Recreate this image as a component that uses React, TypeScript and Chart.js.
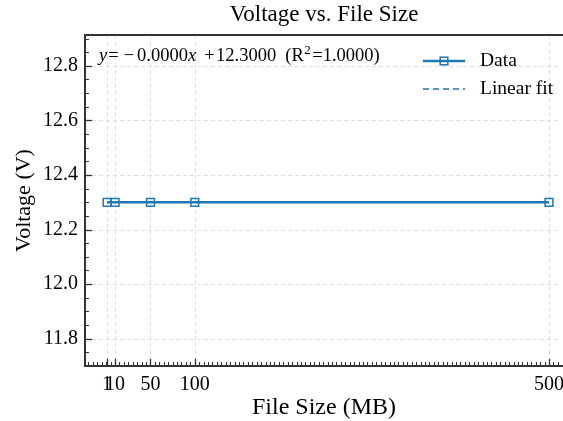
import React, { useEffect, useRef } from 'react';
import { Chart, registerables } from 'chart.js';

Chart.register(...registerables);

// ---- data ----
const FILE_SIZES = [1, 10, 50, 100, 500];
const VOLTAGES = [12.3, 12.3, 12.3, 12.3, 12.3];
const FIT_X = [1, 500];
const FIT_Y = [12.3, 12.3];
const X_TICKS = [1, 10, 50, 100, 500];
const Y_TICKS = [11.8, 12.0, 12.2, 12.4, 12.6, 12.8];
const X_RANGE = [-23.95, 515.8];
const Y_RANGE = [11.7, 12.913];
const X_MINOR_STEP = 5;
const Y_MINOR_STEP = 0.05;
const TITLE = 'Voltage vs. File Size';
const X_LABEL = 'File Size (MB)';
const Y_LABEL = 'Voltage (V)';
const SERIES_LABELS = ['Data', 'Linear fit'];
const EQ_SIGN = '\u2212';
const EQ_SLOPE = '0.0000';
const EQ_INTERCEPT = '12.3000';
const EQ_R2 = '1.0000';

// ---- style ----
const BLUE = '#1f77b4';
const SPINE = '#333333';
const GRID = '#d6d6d6';
const FONT = "'Liberation Serif', 'Times New Roman', Times, serif";
const W = 563;
const H = 421;

const decoPlugin = {
  id: 'deco',
  beforeDatasetsDraw(chart: any) {
    const { ctx, chartArea: a, scales } = chart;
    const x = scales.x;
    const y = scales.y;
    ctx.save();
    ctx.strokeStyle = GRID;
    ctx.lineWidth = 0.8;
    ctx.setLineDash([4, 3]);
    for (const v of X_TICKS) {
      const px = Math.round(x.getPixelForValue(v)) + 0.5;
      ctx.beginPath();
      ctx.moveTo(px, a.top);
      ctx.lineTo(px, a.bottom);
      ctx.stroke();
    }
    for (const v of Y_TICKS) {
      const py = Math.round(y.getPixelForValue(v)) + 0.5;
      ctx.beginPath();
      ctx.moveTo(a.left, py);
      ctx.lineTo(a.right, py);
      ctx.stroke();
    }
    ctx.restore();
  },
  afterDatasetsDraw(chart: any) {
    const { ctx, chartArea: a, scales } = chart;
    const x = scales.x;
    const y = scales.y;
    ctx.save();
    ctx.strokeStyle = SPINE;
    ctx.lineWidth = 1;
    const xmin = x.min, xmax = x.max, ymin = y.min, ymax = y.max;
    for (let v = Math.ceil(xmin / X_MINOR_STEP) * X_MINOR_STEP; v <= xmax; v += X_MINOR_STEP) {
      const px = Math.round(x.getPixelForValue(v)) + 0.5;
      ctx.beginPath();
      ctx.moveTo(px, a.bottom);
      ctx.lineTo(px, a.bottom - 4);
      ctx.stroke();
    }
    for (let k = Math.ceil(ymin / Y_MINOR_STEP); k * Y_MINOR_STEP <= ymax; k++) {
      const py = Math.round(y.getPixelForValue(k * Y_MINOR_STEP)) + 0.5;
      ctx.beginPath();
      ctx.moveTo(a.left, py);
      ctx.lineTo(a.left + 4, py);
      ctx.stroke();
    }
    ctx.lineWidth = 1.3;
    for (const v of X_TICKS) {
      const px = Math.round(x.getPixelForValue(v)) + 0.5;
      ctx.beginPath();
      ctx.moveTo(px, a.bottom);
      ctx.lineTo(px, a.bottom - 7);
      ctx.stroke();
    }
    for (const v of Y_TICKS) {
      const py = Math.round(y.getPixelForValue(v)) + 0.5;
      ctx.beginPath();
      ctx.moveTo(a.left, py);
      ctx.lineTo(a.left + 7, py);
      ctx.stroke();
    }
    ctx.restore();
  },
  afterDraw(chart: any) {
    const { ctx, chartArea: a } = chart;
    ctx.save();
    // keep the frame's right edge open, as the spine there lies outside the picture
    ctx.fillStyle = '#fff';
    ctx.fillRect(a.right - 2, a.top + 1, 2, a.bottom - a.top - 2);
    // spines: top, left, bottom
    ctx.strokeStyle = SPINE;
    ctx.lineWidth = 2;
    ctx.beginPath();
    ctx.moveTo(a.right, a.top);
    ctx.lineTo(a.left, a.top);
    ctx.lineTo(a.left, a.bottom);
    ctx.lineTo(a.right, a.bottom);
    ctx.stroke();

    // equation
    const size = 18.5;
    const reg = `${size}px ${FONT}`;
    const ita = `italic ${size}px ${FONT}`;
    let cx = a.left + 14;
    const by = a.top + 26;
    ctx.fillStyle = '#000';
    ctx.textAlign = 'left';
    ctx.textBaseline = 'alphabetic';
    const put = (t: string, f: string, gap: number) => {
      ctx.font = f;
      ctx.fillText(t, cx, by);
      cx += ctx.measureText(t).width + gap;
    };
    put('y', ita, 1);
    put('=', reg, 5);
    put(EQ_SIGN, reg, 3);
    put(EQ_SLOPE, reg, 0);
    put('x', ita, 8);
    put('+', reg, 1.5);
    put(EQ_INTERCEPT, reg, 9);
    put('(R', reg, 0.5);
    ctx.font = `${Math.round(size * 0.7)}px ${FONT}`;
    ctx.fillText('2', cx, by - 7);
    cx += ctx.measureText('2').width + 1.5;
    put('=' + EQ_R2 + ')', reg, 0);

    // legend
    const l0 = a.right - 140;
    const l1 = a.right - 98;
    const tx = a.right - 83;
    const r1 = a.top + 26;
    const r2 = a.top + 54;
    ctx.strokeStyle = BLUE;
    ctx.lineWidth = 2.5;
    ctx.beginPath();
    ctx.moveTo(l0, r1);
    ctx.lineTo(l1, r1);
    ctx.stroke();
    ctx.lineWidth = 1.5;
    const mc = (l0 + l1) / 2;
    ctx.strokeRect(mc - 3.8, r1 - 3.8, 7.6, 7.6);
    ctx.setLineDash([6, 4]);
    ctx.beginPath();
    ctx.moveTo(l0, r2);
    ctx.lineTo(l1, r2);
    ctx.stroke();
    ctx.setLineDash([]);
    ctx.font = `19.5px ${FONT}`;
    ctx.textBaseline = 'middle';
    ctx.fillStyle = '#000';
    ctx.fillText(SERIES_LABELS[0], tx, r1);
    ctx.fillText(SERIES_LABELS[1], tx, r2);
    ctx.restore();
  },
};

export default function App() {
  const ref = useRef<HTMLCanvasElement | null>(null);
  useEffect(() => {
    document.documentElement.style.overflow = 'hidden';
    const canvas = ref.current;
    if (!canvas) return;
    const chart = new Chart(canvas, {
      type: 'line',
      data: {
        datasets: [
          {
            label: SERIES_LABELS[0],
            data: FILE_SIZES.map((v, i) => ({ x: v, y: VOLTAGES[i] })),
            borderColor: BLUE,
            borderWidth: 2.5,
            pointStyle: 'rect',
            pointRadius: 5.5,
            pointBorderWidth: 1.5,
            pointBorderColor: BLUE,
            pointBackgroundColor: 'rgba(255,255,255,0)',
            tension: 0,
            fill: false,
          },
          {
            label: SERIES_LABELS[1],
            data: FIT_X.map((v, i) => ({ x: v, y: FIT_Y[i] })),
            borderColor: BLUE,
            borderWidth: 1.5,
            borderDash: [6, 4],
            pointRadius: 0,
            tension: 0,
            fill: false,
          },
        ],
      },
      options: {
        animation: false,
        responsive: false,
        devicePixelRatio: 1,
        layout: { autoPadding: false, padding: { left: 0, right: 0, top: 0, bottom: 0 } },
        plugins: {
          legend: { display: false },
          tooltip: { enabled: false },
          title: {
            display: true,
            fullSize: false,
            text: TITLE,
            color: '#000',
            font: { family: FONT, size: 23, weight: 'normal', lineHeight: 0.63 },
            padding: { top: 8, bottom: 12.5 },
          },
        },
        scales: {
          x: {
            type: 'linear',
            min: X_RANGE[0],
            max: X_RANGE[1],
            afterBuildTicks: (s: any) => {
              s.ticks = X_TICKS.map((v) => ({ value: v }));
            },
            afterFit: (s: any) => {
              s.height = 55;
              s.paddingLeft = 0;
              s.paddingRight = 0;
            },
            grid: { display: false, drawTicks: false },
            border: { display: false },
            ticks: {
              autoSkip: false,
              maxRotation: 0,
              minRotation: 0,
              padding: 7,
              color: '#000',
              font: { family: FONT, size: 20 },
              callback: (v: any) => String(v),
            },
            title: {
              display: true,
              text: X_LABEL,
              color: '#000',
              font: { family: FONT, size: 24, lineHeight: 1.0 },
              padding: { top: 0, bottom: 1 },
            },
          },
          y: {
            type: 'linear',
            min: Y_RANGE[0],
            max: Y_RANGE[1],
            afterBuildTicks: (s: any) => {
              s.ticks = Y_TICKS.map((v) => ({ value: v }));
            },
            afterFit: (s: any) => {
              s.width = 85;
            },
            grid: { display: false, drawTicks: false },
            border: { display: false },
            ticks: {
              autoSkip: false,
              padding: 7,
              color: '#000',
              font: { family: FONT, size: 20 },
              callback: (v: any) => Number(v).toFixed(1),
            },
            title: {
              display: true,
              text: Y_LABEL,
              color: '#000',
              font: { family: FONT, size: 22, lineHeight: 1.2 },
              padding: { top: 11, bottom: 0 },
            },
          },
        },
      },
      plugins: [decoPlugin],
    } as any);
    return () => chart.destroy();
  }, []);
  return (
    <div style={{ position: 'fixed', left: 0, top: 0, width: W, height: H, background: '#fff' }}>
      <canvas ref={ref} width={W} height={H} style={{ display: 'block', width: W, height: H }} />
    </div>
  );
}
